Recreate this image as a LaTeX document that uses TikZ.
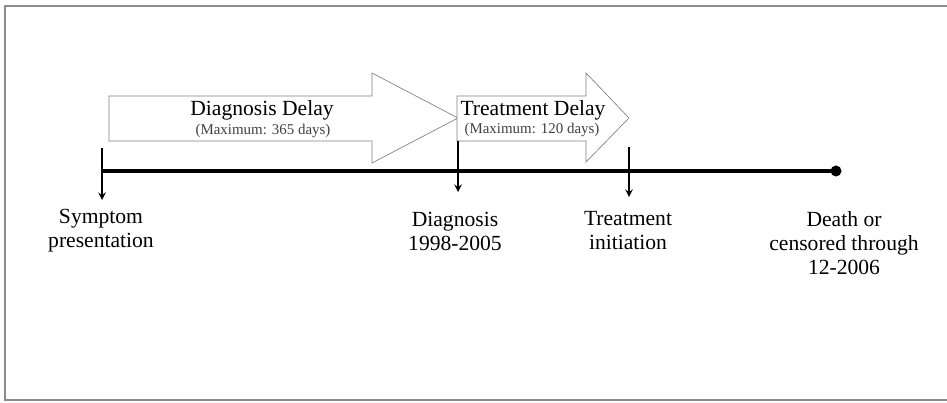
\documentclass[tikz,border=0pt]{standalone}
\usepackage{fontspec}
\setmainfont{Liberation Serif}
\begin{document}
\begin{tikzpicture}[x=0.75pt,y=-0.75pt,
  tickline/.style={-stealth,line width=1.5pt},
  delaybox/.style={draw=gray,line width=0.5pt,fill=white},
  lbl/.style={align=center,inner sep=0pt,font=\fontsize{16.2}{18}\selectfont},
  sublbl/.style={inner sep=0pt,text=black!75,font=\fontsize{11.2}{12}\selectfont}]
 \useasboundingbox (0,0) rectangle (947,403);
 \draw [gray!90,line width=1.5pt] (5,6) rectangle (960,400);
 % delay arrows
 \draw [delaybox] (109,96) -- (372,96) -- (372,73) -- (458,118) -- (372,163) -- (372,141) -- (109,141) -- cycle;
 \draw [delaybox] (457,96) -- (586,96) -- (586,73) -- (629,118) -- (586,162) -- (586,141) -- (457,141) -- cycle;
 \node [lbl] (ddelay) at (262,110) {Diagnosis Delay};
 \node [sublbl] (dmax) at (263,131) {(Maximum: 365 days)};
 \node [lbl] (tdelay) at (533,110) {Treatment Delay};
 \node [sublbl] (tmax) at (532,130) {(Maximum: 120 days)};
 % time line
 \coordinate (start) at (102,171);
 \coordinate (end) at (836,171);
 \draw [line width=2.8pt] (start) -- (end);
 \fill (end) circle (5.5);
 \coordinate (s1) at (102,148); \coordinate (s2) at (102,200);
 \coordinate (d1) at (458,141); \coordinate (d2) at (458,192);
 \coordinate (t1) at (629,147); \coordinate (t2) at (629,197);
 \draw [tickline] (s1) -- (s2);
 \draw [tickline] (d1) -- (d2);
 \draw [tickline] (t1) -- (t2);
 % events
 \node [lbl] (symp) at (101,231) {Symptom\\presentation};
 \node [lbl] (diag) at (455,231) {Diagnosis\\1998-2005};
 \node [lbl] (treat) at (628,231) {Treatment\\initiation};
 \node [lbl] (death) at (844,243) {Death or\\censored through\\12-2006};
\end{tikzpicture}
\end{document}
